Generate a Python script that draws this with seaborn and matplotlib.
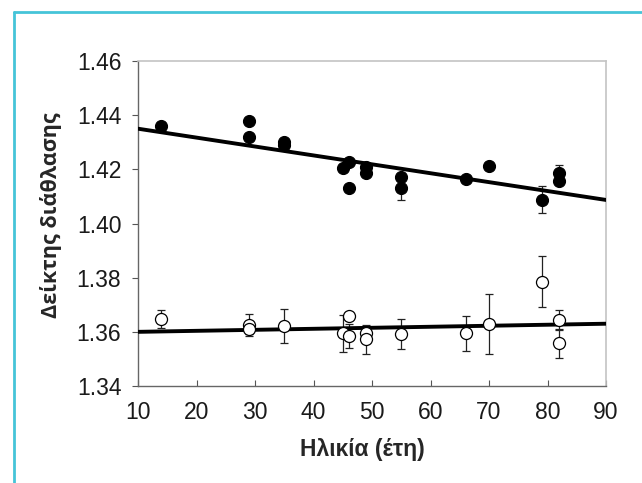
import matplotlib
matplotlib.use("Agg")
import matplotlib.pyplot as plt
import seaborn as sns
import pandas as pd
from matplotlib.lines import Line2D

# --- data ---
age_filled = [14, 29, 29, 35, 35, 45, 46, 46, 49, 49, 55, 55, 66, 70, 79, 82, 82]
ri_filled = [1.436, 1.438, 1.432, 1.430, 1.429, 1.4206, 1.4228, 1.413, 1.421, 1.4185,
             1.4173, 1.413, 1.4163, 1.4212, 1.4087, 1.4185, 1.4157]
err_filled = [0.0015, 0.0008, 0.0008, 0.0008, 0.0008, 0.0008, 0.0008, 0.0008, 0.0008, 0.0008,
              0.0008, 0.0045, 0.0008, 0.0008, 0.005, 0.003, 0.0008]

age_open = [14, 29, 29, 35, 45, 46, 46, 49, 49, 55, 66, 70, 79, 82, 82]
ri_open = [1.3646, 1.3625, 1.3609, 1.3621, 1.3594, 1.366, 1.3585, 1.3594, 1.3572,
           1.3591, 1.3594, 1.3629, 1.3785, 1.3644, 1.3557]
err_open = [0.0033, 0.0042, 0.0017, 0.0063, 0.0068, 0.001, 0.0045, 0.0015, 0.0052,
            0.0055, 0.0063, 0.0112, 0.0094, 0.0038, 0.0055]

fit_x = [10, 90]
fit_filled = [1.435, 1.4087]
fit_open = [1.360, 1.363]

x_ticks = [10, 20, 30, 40, 50, 60, 70, 80, 90]
y_ticks = [1.34, 1.36, 1.38, 1.40, 1.42, 1.44, 1.46]
x_label = "Ηλικία (έτη)"
y_label = "Δείκτης διάθλασης"

sns.set_theme(style="white")
plt.rcParams['font.family'] = ['Liberation Sans', 'DejaVu Sans']

fig = plt.figure(figsize=(6.42, 4.83), dpi=100)
ax = fig.add_axes([0.2150, 0.2008, 0.7290, 0.6729])

df_f = pd.DataFrame({"age": age_filled, "ri": ri_filled})
df_o = pd.DataFrame({"age": age_open, "ri": ri_open})
df_fit = pd.DataFrame({"age": fit_x, "f": fit_filled, "o": fit_open})

ax.errorbar(age_filled, ri_filled, yerr=err_filled, fmt='none', ecolor='#222222',
            elinewidth=0.9, capsize=3, capthick=0.9, zorder=2)
ax.errorbar(age_open, ri_open, yerr=err_open, fmt='none', ecolor='#222222',
            elinewidth=0.9, capsize=3, capthick=0.9, zorder=2)

sns.lineplot(data=df_fit, x="age", y="f", ax=ax, color='black', linewidth=2.8, zorder=3)
sns.lineplot(data=df_fit, x="age", y="o", ax=ax, color='black', linewidth=2.8, zorder=3)

sns.scatterplot(data=df_f, x="age", y="ri", ax=ax, color='black', s=75,
                edgecolor='black', linewidth=0.8, zorder=4)
sns.scatterplot(data=df_o, x="age", y="ri", ax=ax, facecolor='white', s=75,
                edgecolor='black', linewidth=0.9, zorder=4)

ax.set_xlim(10, 90)
ax.set_ylim(1.34, 1.46)
ax.set_xticks(x_ticks)
ax.set_yticks(y_ticks)
ax.set_xticklabels([str(t) for t in x_ticks])
ax.set_yticklabels([f"{t:.2f}" for t in y_ticks])
ax.tick_params(axis='both', labelsize=16.5, colors='#1a1a1a')
ax.tick_params(axis='x', direction='in', length=4, width=0.8, color='#555555', pad=11)
ax.tick_params(axis='y', direction='out', length=4, width=0.8, color='#555555', pad=8)
ax.tick_params(left=True, bottom=True)

for side in ['left', 'bottom']:
    ax.spines[side].set_color('#666666')
    ax.spines[side].set_linewidth(1.0)
for side in ['top', 'right']:
    ax.spines[side].set_color('#c4c4c4')
    ax.spines[side].set_linewidth(1.2)

ax.set_xlabel(x_label, fontsize=16.5, fontweight='bold')
ax.set_ylabel(y_label, fontsize=15.5, fontweight='bold',
              family=['Open Sans', 'DejaVu Sans'])
ax.xaxis.set_label_coords(0.479, -0.16)
ax.yaxis.set_label_coords(-0.162, 0.526)

# cyan frame around the picture
fig.add_artist(Line2D([13.5 / 642, 13.5 / 642], [0, 1 - 12 / 483], color='#45c4d8',
                      linewidth=2.0, transform=fig.transFigure))
fig.add_artist(Line2D([13.5 / 642, 1], [1 - 12 / 483, 1 - 12 / 483], color='#45c4d8',
                      linewidth=2.0, transform=fig.transFigure))

fig.savefig("out.png", dpi=100)
